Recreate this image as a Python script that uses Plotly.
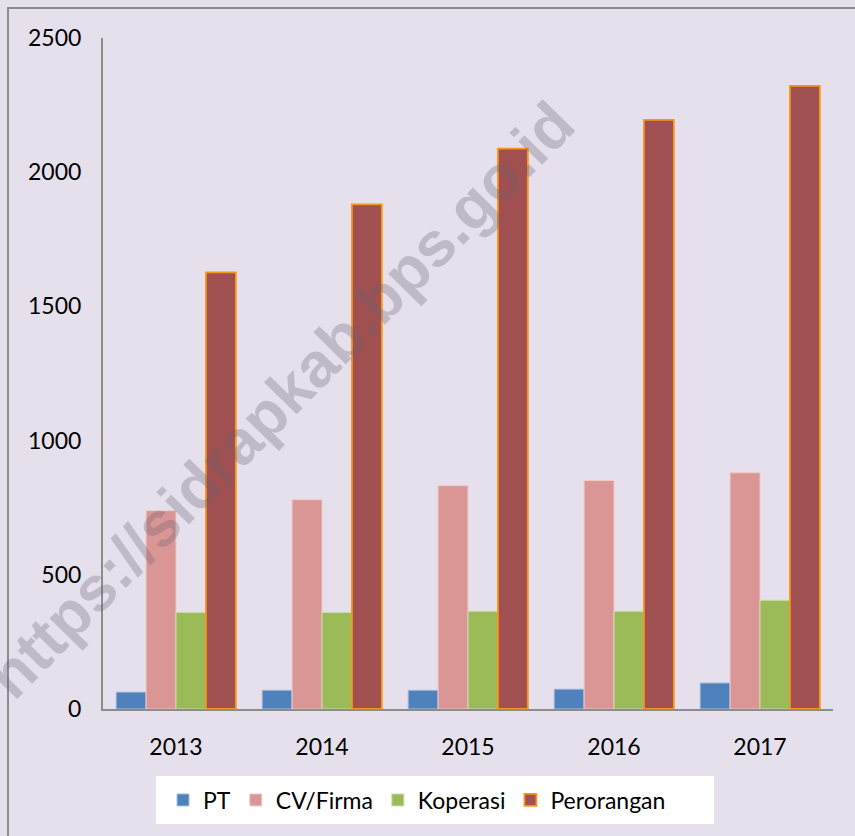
import plotly.graph_objects as go

years = ["2013", "2014", "2015", "2016", "2017"]
pt = [63, 70, 70, 74, 97]
cv_firma = [739, 780, 832, 851, 880]
koperasi = [360, 360, 364, 364, 405]
perorangan = [1627, 1880, 2088, 2195, 2322]

W, H = 855, 836
L, R, T, B = 103, 22, 38, 127
pw, ph = W - L - R, H - T - B

def px_x(x):
    return (x - L) / pw

def px_y(y):
    return (H - B - y) / ph

font_family = "Lato, 'Open Sans', sans-serif"

fig = go.Figure()
fig.add_trace(go.Bar(name="PT", x=years, y=pt,
                     marker=dict(color="#4F81BD", line=dict(color="#A9C0DE", width=1))))
fig.add_trace(go.Bar(name="CV/Firma", x=years, y=cv_firma,
                     marker=dict(color="#DA9694", line=dict(color="#EDCBCA", width=1))))
fig.add_trace(go.Bar(name="Koperasi", x=years, y=koperasi,
                     marker=dict(color="#9BBB59", line=dict(color="#CDDDAC", width=1))))
fig.add_trace(go.Bar(name="Perorangan", x=years, y=perorangan,
                     marker=dict(color="#A05050", line=dict(color="#F8971A", width=1.8))))

fig.update_layout(
    width=W, height=H,
    margin=dict(l=L, r=R, t=T, b=B),
    paper_bgcolor="#E5E0EC",
    plot_bgcolor="#E5E0EC",
    barmode="group",
    bargap=0.18,
    bargroupgap=0.0,
    font=dict(family=font_family, size=22, color="#000000"),
    showlegend=True,
    legend=dict(orientation="h", x=px_x(417), xanchor="center",
                y=px_y(800), yanchor="middle",
                bgcolor="rgba(0,0,0,0)", font=dict(size=23, family=font_family),
                traceorder="normal"),
    xaxis=dict(showline=True, linecolor="#8C8C8C", linewidth=2,
               showgrid=False, ticks="", ticklabelstandoff=16,
               tickfont=dict(size=23)),
    yaxis=dict(range=[0, 2500], tickvals=[0, 500, 1000, 1500, 2000, 2500],
               showline=True, linecolor="#8C8C8C", linewidth=2,
               showgrid=False, zeroline=False, ticks="", ticklabelstandoff=15,
               tickfont=dict(size=23)),
    shapes=[
        dict(type="rect", xref="paper", yref="paper",
             x0=px_x(8), x1=px_x(870), y0=px_y(850), y1=px_y(8),
             line=dict(color="#8C8C8C", width=2), fillcolor="rgba(0,0,0,0)", layer="below"),
        dict(type="rect", xref="paper", yref="paper",
             x0=px_x(156), x1=px_x(714), y0=px_y(824), y1=px_y(776),
             line=dict(width=0), fillcolor="#FFFFFF", layer="below"),
    ],
    annotations=[
        dict(text="<b>https://sidrapkab.bps.go.id</b>", xref="paper", yref="paper",
             x=px_x(280), y=px_y(400), xanchor="center", yanchor="middle",
             textangle=-45.5, showarrow=False,
             font=dict(family="Liberation Sans, Arial, sans-serif", size=63,
                       color="rgba(105,100,115,0.30)")),
    ],
)

fig.write_html("out.html",
               config={"displayModeBar": False},
               post_script="document.body.style.margin='0';document.body.style.overflow='hidden';")
